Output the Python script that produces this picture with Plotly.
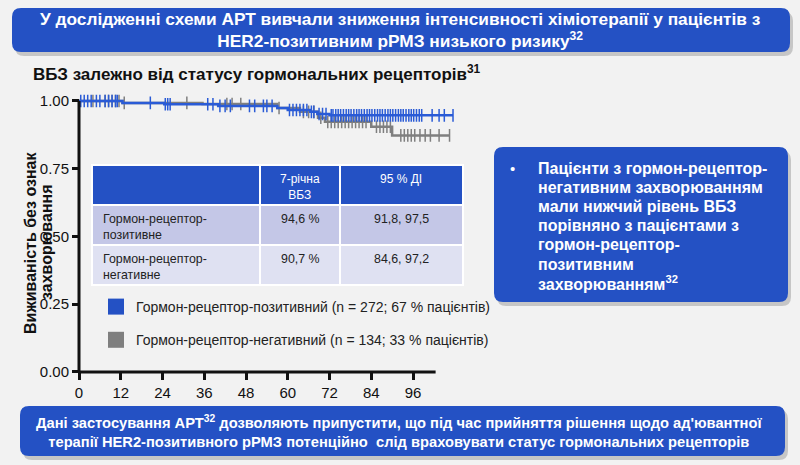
import plotly.graph_objects as go

# --- data ---
pos_times = [0, 12.5, 24.5, 40, 57, 60, 66.5, 68.5, 72]
pos_surv = [1.0, 0.993, 0.988, 0.982, 0.974, 0.967, 0.960, 0.952, 0.947]
pos_end = 107.5
pos_censor = [0.5, 1.5, 2.5, 3.5, 5, 6, 7.5, 8.5, 9.5, 10.5, 11, 20.5, 24.8, 25.5, 26.2,
              37, 38.5, 40.5, 42, 43.5, 49, 50.5, 53, 54, 55.5, 60.5, 61.5, 62.5, 63.5,
              64.5, 65.5, 66.8, 67.5, 69, 70, 71, 72.5, 73, 73.8, 74.5, 75.2, 76, 76.8,
              77.5, 78.2, 79, 79.8, 80.5, 81.2, 82, 82.8, 83.5, 84.2, 85, 85.8, 86.5,
              87.2, 88, 88.8, 89.5, 90.2, 91, 91.8, 92.5, 93.2, 94, 94.8, 95.5, 96.2,
              97, 97.8, 98.5, 101.5, 103.5, 105, 107.5]

neg_times = [0, 12.5, 35.5, 57, 63.5, 68.7, 70.7, 84, 90]
neg_surv = [1.0, 0.993, 0.989, 0.974, 0.960, 0.938, 0.923, 0.905, 0.873]
neg_end = 106.5
neg_censor = [4, 7.5, 8.5, 9.5, 10.5, 11.5, 13, 31, 42.5, 44, 46.5, 57.5, 64.5, 66,
              67.5, 69.5, 71.5, 72.5, 73.5, 74.5, 75.5, 76.5, 77.5, 78.5, 79.5, 80.5,
              81.5, 82.5, 85.5, 86.5, 87.5, 88.5, 89.5, 92.5, 93.5, 94.5, 95.5, 96.5,
              98, 99.5, 101, 103.5, 106.5]

group_names = ["Гормон-рецептор-позитивний (n = 272; 67 % пацієнтів)",
               "Гормон-рецептор-негативний (n = 134; 33 % пацієнтів)"]

x_ticks = [0, 12, 24, 36, 48, 60, 72, 84, 96]
y_ticks = [0, 0.25, 0.5, 0.75, 1.0]
y_ticklabels = ["0.00", "0.25", "0.50", "0.75", "1.00"]

table_header = ["", "7-річна<br>ВБЗ", "95 % ДІ"]
table_rows = ["Гормон-рецептор-<br>позитивне", "Гормон-рецептор-<br>негативне"]
table_pfs = ["94,6 %", "90,7 %"]
table_ci = ["91,8, 97,5", "84,6, 97,2"]

callout_lines = ["Пацієнти з гормон-рецептор-", "негативним захворюванням",
                 "мали нижчий рівень ВБЗ", "порівняно з пацієнтами з",
                 "гормон-рецептор-", "позитивним", "захворюванням<sup>32</sup>"]

BLUE = "#2451c4"
CURVE_BLUE = "#2a5bd6"
GRAY = "#7f7f7f"
BG = "#f2f2f2"
FONT = "Liberation Sans, Arial, sans-serif"
NARROW = "Liberation Sans Narrow, Arial Narrow, Liberation Sans, sans-serif"


def step_xy(times, surv, end):
    xs, ys = [], []
    for i, t in enumerate(times):
        nxt = times[i + 1] if i + 1 < len(times) else end
        xs += [t, nxt]
        ys += [surv[i], surv[i]]
    return xs, ys


def surv_at(times, surv, t):
    val = surv[0]
    for tt, s in zip(times, surv):
        if t >= tt:
            val = s
    return val


def px(x):
    return x / 800


def py(y):
    return 1 - y / 465


def rrect(x0, y0, x1, y1, r=8):
    X0, X1 = px(x0), px(x1)
    Y0, Y1 = py(y1), py(y0)
    rx, ry = r / 800, r / 465
    return (f"M{X0+rx},{Y0} L{X1-rx},{Y0} Q{X1},{Y0} {X1},{Y0+ry} "
            f"L{X1},{Y1-ry} Q{X1},{Y1} {X1-rx},{Y1} L{X0+rx},{Y1} "
            f"Q{X0},{Y1} {X0},{Y1-ry} L{X0},{Y0+ry} Q{X0},{Y0} {X0+rx},{Y0} Z")


fig = go.Figure()

for times, surv, end, cens, col in [(neg_times, neg_surv, neg_end, neg_censor, GRAY),
                                     (pos_times, pos_surv, pos_end, pos_censor, CURVE_BLUE)]:
    sx, sy = step_xy(times, surv, end)
    fig.add_trace(go.Scatter(x=sx, y=sy, mode="lines", line=dict(color=col, width=2.5),
                             showlegend=False, hoverinfo="skip"))
    fig.add_trace(go.Scatter(x=cens, y=[surv_at(times, surv, c) for c in cens],
                             mode="markers", showlegend=False, hoverinfo="skip",
                             marker=dict(symbol="line-ns", size=9,
                                         line=dict(color=col, width=1.5))))

# legend swatches
for name, col, grp in [(group_names[0], BLUE, "a"), (group_names[1], GRAY, "b")]:
    fig.add_trace(go.Scatter(x=[None], y=[None], mode="markers", name=name, legendgroup=grp,
                             marker=dict(symbol="square", size=16, color=col)))

# plot area: x=0 -> 79px, 96 -> 413px ; y=0 -> 372px, 1 -> 101px
xs = (413 - 79) / 96
ys = 271
xr = [-1.5, 109]
yr = [-0.03, 1.035]
fig.update_layout(
    width=800, height=465,
    margin=dict(l=0, r=0, t=0, b=0),
    paper_bgcolor=BG, plot_bgcolor=BG,
    font=dict(family=FONT, color="#111111"),
    xaxis=dict(range=xr, domain=[px(79 + xr[0] * xs), px(79 + xr[1] * xs)],
               anchor="free", position=py(372), showgrid=False, zeroline=False,
               showline=False, tickvals=x_ticks, ticks="outside", ticklen=7,
               tickwidth=2.5, tickcolor="#111", tickfont=dict(size=15, color="#111")),
    yaxis=dict(range=yr, domain=[py(372 - yr[0] * ys), py(372 - yr[1] * ys)],
               anchor="free", position=px(79), showgrid=False, zeroline=False,
               showline=False, tickvals=y_ticks, ticktext=y_ticklabels,
               ticks="outside", ticklen=7, tickwidth=2.5, tickcolor="#111",
               tickfont=dict(size=15, color="#111")),
    legend=dict(x=px(96), y=py(291), xanchor="left", yanchor="top",
                bgcolor="rgba(0,0,0,0)", tracegroupgap=12,
                font=dict(family=FONT, size=14, color="#222222")),
    showlegend=True,
)

shapes = []
# axis lines
shapes.append(dict(type="line", xref="x", yref="y", x0=0, x1=102.5, y0=0, y1=0,
                   line=dict(color="#111", width=3)))
shapes.append(dict(type="line", xref="x", yref="y", x0=0, x1=0, y0=0, y1=1.0,
                   line=dict(color="#111", width=3)))
# boxes with soft shadows
for (x0, y0, x1, y1) in [(12, 8, 790, 52), (20, 406, 785, 456), (494, 147, 788, 302)]:
    shapes.append(dict(type="path", xref="paper", yref="paper", layer="below",
                       path=rrect(x0 + 3, y0 + 4, x1 + 3, y1 + 4, 9),
                       fillcolor="rgba(0,0,0,0.18)", line=dict(width=0)))
    shapes.append(dict(type="path", xref="paper", yref="paper", layer="below",
                       path=rrect(x0, y0, x1, y1, 9),
                       fillcolor=BLUE, line=dict(width=0)))

# table drawn as cells
col_edges = [92, 260, 340, 463]
row_edges = [165, 205, 245, 285]
row_fills = [BLUE, "#c4c7e7", "#dfe1f2"]
for r in range(3):
    for c in range(3):
        shapes.append(dict(type="rect", xref="paper", yref="paper", layer="above",
                           x0=px(col_edges[c]), x1=px(col_edges[c + 1]),
                           y0=py(row_edges[r + 1]), y1=py(row_edges[r]),
                           fillcolor=row_fills[r], line=dict(color="white", width=2)))
fig.update_layout(shapes=shapes)

ann = []


def add_text(x, y, text, size, color="#111", weight="normal", family=FONT,
             xa="center", ya="middle", align="center", angle=0):
    ann.append(dict(x=px(x), y=py(y), xref="paper", yref="paper", showarrow=False,
                    xanchor=xa, yanchor=ya, align=align, text=text, textangle=angle,
                    font=dict(family=family, size=size, color=color, weight=weight)))


add_text(400, 30, "У дослідженні схеми АРТ вивчали зниження інтенсивності хіміотерапії у пацієнтів з<br>"
         "HER2-позитивним рРМЗ низького ризику<sup>32</sup>", 17.3, "white", "bold", NARROW)
add_text(31, 73, "ВБЗ залежно від статусу гормональних рецепторів<sup>31</sup>", 17,
         weight="bold", xa="left")
add_text(30, 243, "Виживаність без ознак", 16, weight="bold", angle=-90)
add_text(47, 242, "захворювання", 16, weight="bold", angle=-90)
add_text(512, 168, "•", 15, "white")
for i, line in enumerate(callout_lines):
    add_text(536, 168 + i * 19.2, line, 16, "white", "bold", xa="left", align="left")
add_text(399, 431, "Дані застосування АРТ<sup>32</sup> дозволяють припустити, що під час прийняття рішення щодо ад'ювантної<br>"
         "терапії HER2-позитивного рРМЗ потенційно  слід враховувати статус гормональних рецепторів",
         14.7, "white", "bold", NARROW)

# table texts
for c, h in enumerate(table_header):
    if h:
        add_text((col_edges[c] + col_edges[c + 1]) / 2, 170, h, 12, "white", ya="top")
for r in range(len(table_rows)):
    top = row_edges[r + 1] + 5
    add_text(col_edges[0] + 9, top, table_rows[r], 12.4, "#222", xa="left", ya="top", align="left")
    add_text((col_edges[1] + col_edges[2]) / 2, top, table_pfs[r], 12.4, "#222", ya="top")
    add_text((col_edges[2] + col_edges[3]) / 2, top, table_ci[r], 12.4, "#222", ya="top")
fig.update_layout(annotations=ann)

fig.write_html("out.html", config={"displayModeBar": False},
               post_script="document.body.style.margin='0px';")
